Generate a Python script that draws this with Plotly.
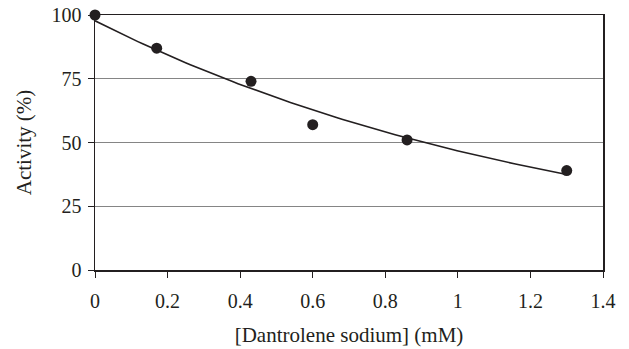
import numpy as np
import plotly.graph_objects as go

# Data
conc_mM = [0.0, 0.17, 0.43, 0.60, 0.86, 1.30]
activity_pct = [100, 87, 74, 57, 51, 39]
x_ticks = [0, 0.2, 0.4, 0.6, 0.8, 1.0, 1.2, 1.4]
x_tick_labels = ["0", "0.2", "0.4", "0.6", "0.8", "1", "1.2", "1.4"]
y_ticks = [0, 25, 50, 75, 100]

# Exponential trendline (least squares on ln y), as in a spreadsheet trendline
xa = np.array(conc_mM)
ya = np.array(activity_pct, dtype=float)
b, ln_a = np.polyfit(xa, np.log(ya), 1)
x_fit = np.linspace(xa.min(), xa.max(), 100)
y_fit = np.exp(ln_a) * np.exp(b * x_fit)

SERIF = "Liberation Serif"
INK = "#231f20"

fig = go.Figure()
fig.add_trace(go.Scatter(x=x_fit, y=y_fit, mode="lines",
                         line=dict(color=INK, width=1.6), showlegend=False,
                         hoverinfo="skip"))
fig.add_trace(go.Scatter(x=conc_mM, y=activity_pct, mode="markers",
                         marker=dict(color=INK, size=11), showlegend=False,
                         cliponaxis=False))

fig.update_layout(
    width=629, height=349,
    margin=dict(l=95, r=26, t=15, b=79, autoexpand=False),
    paper_bgcolor="white", plot_bgcolor="white",
    font=dict(family=SERIF, size=20, color=INK),
    xaxis=dict(range=[0, 1.4], tickvals=x_ticks, ticktext=x_tick_labels,
               showgrid=False, zeroline=False, automargin=False,
               showline=True, linecolor=INK, linewidth=1.5, mirror=True,
               ticks="outside", ticklen=6, tickcolor=INK, tickwidth=1,
               tickfont=dict(family=SERIF, size=20, color=INK),
               ticklabeloverflow="allow",
               title=dict(text="[Dantrolene sodium] (mM)", standoff=17,
                          font=dict(family=SERIF, size=21, color=INK)),
               ticklabelstandoff=6),
    yaxis=dict(range=[0, 100], tickvals=y_ticks, automargin=False,
               showgrid=True, gridcolor="#858585", gridwidth=1.2, zeroline=False,
               showline=True, linecolor=INK, linewidth=1.5, mirror=True,
               ticks="outside", ticklen=6, tickcolor=INK, tickwidth=1,
               tickfont=dict(family=SERIF, size=20, color=INK),
               ticklabeloverflow="allow",
               ticklabelstandoff=2,
               title=dict(text="Activity (%)", standoff=14,
                          font=dict(family=SERIF, size=21, color=INK))),
)

# place the figure flush with the window's top-left corner
fig.write_html("out.html",
               config={"displayModeBar": False, "staticPlot": True},
               post_script="document.body.style.margin='0';document.body.style.overflow='hidden';")
